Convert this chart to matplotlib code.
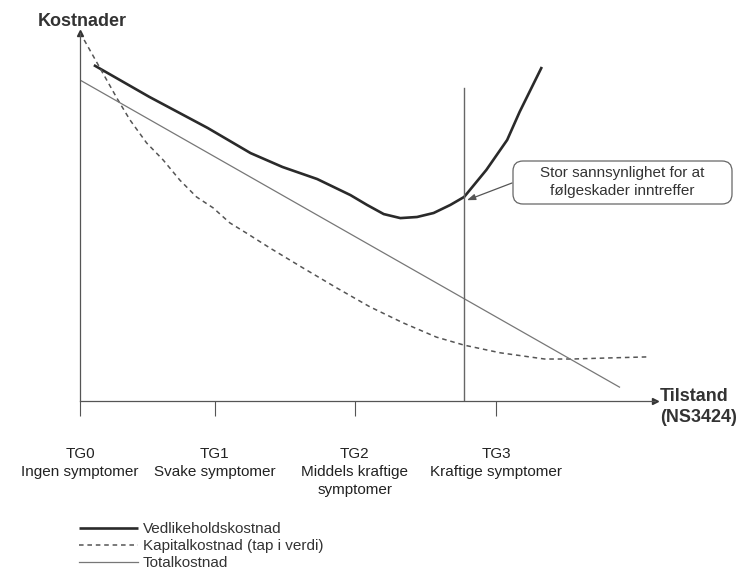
import matplotlib
matplotlib.use("Agg")
import matplotlib.pyplot as plt
from matplotlib.patches import FancyBboxPatch

plt.rcParams['font.family'] = ['Liberation Sans', 'DejaVu Sans']

# condition (x) in TG units, cost (y) in relative units 0-100
tg_pos = [0, 0.97, 1.98, 3.0]
tg_labels = ["TG0\nIngen symptomer", "TG1\nSvake symptomer",
             "TG2\nMiddels kraftige\nsymptomer", "TG3\nKraftige symptomer"]

vedl_x = [0.10, 0.50, 0.92, 1.23, 1.46, 1.71, 1.95, 2.07, 2.19, 2.31,
          2.43, 2.55, 2.67, 2.77, 2.93, 3.08, 3.17, 3.33]
vedl_y = [92.0, 83.3, 74.8, 67.9, 64.1, 60.8, 56.4, 53.7, 51.2, 50.1,
          50.4, 51.5, 53.7, 55.9, 63.3, 71.5, 79.2, 91.5]

kap_x = [0.03, 0.27, 0.36, 0.48, 0.60, 0.72, 0.84, 0.96, 1.08, 1.20, 1.37,
         1.61, 1.85, 2.09, 2.33, 2.57, 2.77, 3.03, 3.35, 3.55, 3.82, 4.11]
kap_y = [98.9, 82.7, 77.0, 70.7, 66.0, 60.5, 55.9, 52.9, 48.8, 46.0, 41.9,
         36.4, 31.0, 25.8, 21.4, 17.5, 15.3, 13.2, 11.5, 11.5, 11.8, 12.1]

tot_x = [0.01, 3.89]
tot_y = [87.7, 3.8]

grense_x = 2.77
grense_top = 85.8

fig = plt.figure(figsize=(7.46, 5.74), dpi=100)
ax = fig.add_axes([80 / 746, 173 / 574, 575 / 746, 368 / 574])

ax.plot(vedl_x, vedl_y, color='#2a2a2a', lw=1.9, solid_capstyle='butt',
        solid_joinstyle='round', label='Vedlikeholdskostnad')
ax.plot(kap_x, kap_y, color='#555555', lw=1.1, linestyle=(0, (3, 2.5)),
        label='Kapitalkostnad (tap i verdi)')
ax.plot(tot_x, tot_y, color='#777777', lw=0.9, label='Totalkostnad')
ax.plot([grense_x, grense_x], [0, grense_top], color='#666666', lw=1.0)

ax.set_xlim(0, 4.146)
ax.set_ylim(0, 100.8)

for s in ['top', 'right']:
    ax.spines[s].set_visible(False)
for s in ['left', 'bottom']:
    ax.spines[s].set_color('#555555')
    ax.spines[s].set_linewidth(0.9)

# arrow heads on the axes
ax.plot(1, 0, marker='>', color='#333333', ms=5, transform=ax.transAxes, clip_on=False)
ax.plot(0, 1, marker='^', color='#333333', ms=5, transform=ax.transAxes, clip_on=False)

ax.set_yticks([])
ax.set_xticks(tg_pos, labels=tg_labels)
ax.tick_params(axis='x', direction='out', length=10.8, width=0.8, color='#555555',
               pad=22, labelsize=11, labelcolor='#222222')
for lab in ax.get_xticklabels():
    lab.set_linespacing(1.4)

fig.text(82 / 746, 1 - 22 / 574, 'Kostnader', fontsize=13, fontweight='bold',
         ha='center', va='center', color='#333333')
fig.text(660 / 746, 1 - 407 / 574, 'Tilstand\n(NS3424)', fontsize=13,
         fontweight='bold', ha='left', va='center', color='#333333', linespacing=1.3)

# callout box
box = FancyBboxPatch((5.13, 3.70), 2.19, 0.43, boxstyle='round,pad=0,rounding_size=0.1',
                     transform=fig.dpi_scale_trans, facecolor='white',
                     edgecolor='#666666', lw=0.9)
fig.patches.append(box)
fig.text(622 / 746, 1 - 182 / 574, 'Stor sannsynlighet for at\nfølgeskader inntreffer',
         fontsize=11, ha='center', va='center', color='#333333', linespacing=1.3)
ax.annotate('', xy=(2.79, 55.0), xytext=(512, 574 - 183), textcoords='figure pixels',
            arrowprops=dict(arrowstyle='-|>,head_length=0.5,head_width=0.18',
                            color='#555555', lw=0.9, shrinkA=0, shrinkB=0))

leg = ax.legend(loc='upper left', bbox_to_anchor=(79 / 746, 1 - 522 / 574),
                bbox_transform=fig.transFigure, frameon=False, fontsize=11,
                handlelength=3.86, handletextpad=0.33, labelspacing=0.2,
                borderpad=0, borderaxespad=0)
for t in leg.get_texts():
    t.set_color('#333333')

fig.savefig('out.png', dpi=100)
